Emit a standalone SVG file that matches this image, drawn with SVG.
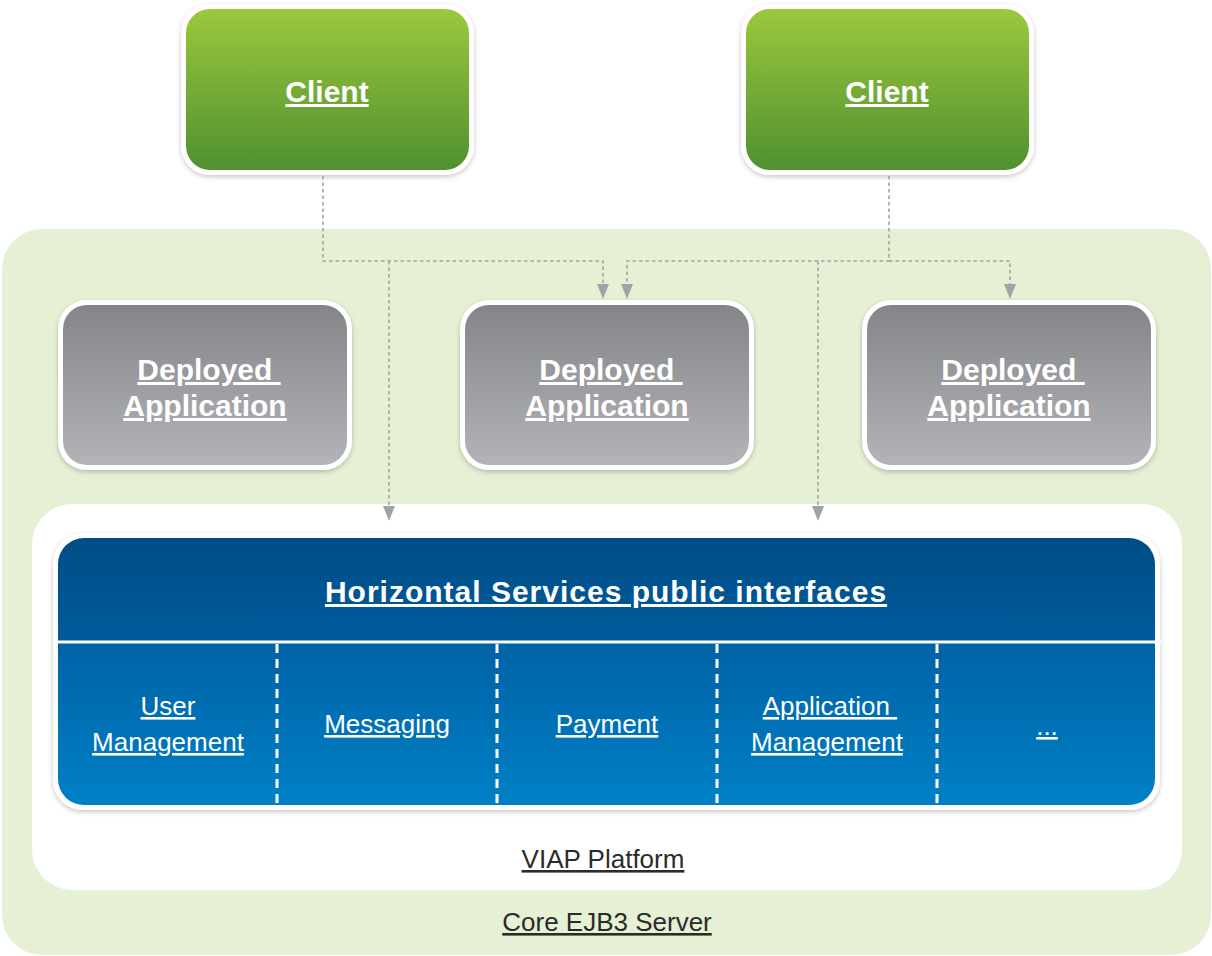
<svg xmlns="http://www.w3.org/2000/svg" width="1212" height="956" viewBox="0 0 1212 956">
<defs>
<linearGradient id="gGreen" x1="0" y1="0" x2="0" y2="1"><stop offset="0" stop-color="#9bc83d"/><stop offset="1" stop-color="#509030"/></linearGradient>
<linearGradient id="gGray" x1="0" y1="0" x2="0" y2="1"><stop offset="0" stop-color="#848589"/><stop offset="1" stop-color="#b3b4b8"/></linearGradient>
<linearGradient id="gHead" x1="0" y1="0" x2="0" y2="1"><stop offset="0" stop-color="#004d86"/><stop offset="1" stop-color="#005b9c"/></linearGradient>
<linearGradient id="gBody" x1="0" y1="0" x2="0" y2="1"><stop offset="0" stop-color="#0062a5"/><stop offset="1" stop-color="#0080c6"/></linearGradient>
<filter id="sh" x="-10%" y="-10%" width="120%" height="130%"><feDropShadow dx="0" dy="2" stdDeviation="2.5" flood-color="#000" flood-opacity="0.22"/></filter>
<clipPath id="blueClip"><rect x="58" y="538" width="1097" height="267" rx="26"/></clipPath>
<marker id="arr" viewBox="0 0 15 12" refX="0" refY="6" markerWidth="15" markerHeight="12" markerUnits="userSpaceOnUse" orient="auto"><path d="M0,0 L15,6 L0,12 z" fill="#a2a3a8"/></marker>
<style>
.lbl{font-family:"Liberation Sans",Arial,sans-serif;fill:#fff;text-anchor:middle;text-decoration:underline;}
.big{font-size:30px;font-weight:bold;}
.svc{font-size:26px;}
.dark{font-family:"Liberation Sans",Arial,sans-serif;fill:#2b2b2b;text-anchor:middle;text-decoration:underline;font-size:26px;}
.conn{fill:none;stroke:#a2a3a8;stroke-width:1.6;stroke-dasharray:3.5,3;}
.div{stroke:#fff;stroke-width:3;stroke-dasharray:9,6;}
</style>
</defs>

<g id="core-ejb3-server">
<rect x="2" y="229" width="1209" height="726" rx="40" fill="#e5f0d5"/>
<text class="dark" x="607" y="931">Core EJB3 Server</text>
</g>

<g id="viap-platform">
<rect x="32" y="504" width="1150" height="386" rx="40" fill="#fff"/>
<text class="dark" x="603" y="868">VIAP Platform</text>
</g>

<g id="horizontal-services">
<rect x="53" y="533" width="1107" height="277" rx="30" fill="#fff" filter="url(#sh)"/>
<g clip-path="url(#blueClip)">
<rect x="58" y="538" width="1097" height="104" fill="url(#gHead)"/>
<rect x="58" y="642" width="1097" height="163" fill="url(#gBody)"/>
</g>
<line x1="58" y1="642" x2="1161" y2="642" stroke="#fff" stroke-width="3"/>
<line class="div" x1="277" y1="644" x2="277" y2="806"/>
<line class="div" x1="497" y1="644" x2="497" y2="806"/>
<line class="div" x1="717" y1="644" x2="717" y2="806"/>
<line class="div" x1="937" y1="644" x2="937" y2="806"/>
<text class="lbl big" x="606" y="602" style="letter-spacing:1px">Horizontal Services public interfaces</text>
</g>

<g id="svc-user-management">
<text class="lbl svc" x="168" y="715">User</text>
<text class="lbl svc" x="168" y="751">Management</text>
</g>
<g id="svc-messaging"><text class="lbl svc" x="387" y="733">Messaging</text></g>
<g id="svc-payment"><text class="lbl svc" x="607" y="733">Payment</text></g>
<g id="svc-application-management">
<text class="lbl svc" x="830" y="715" xml:space="preserve">Application </text>
<text class="lbl svc" x="827" y="751">Management</text>
</g>
<g id="svc-more"><text class="lbl svc" x="1047" y="735">...</text></g>

<g id="client-1">
<rect x="181" y="4" width="293" height="171" rx="29" fill="#fff" filter="url(#sh)"/>
<rect x="186" y="9" width="283" height="161" rx="24" fill="url(#gGreen)"/>
<text class="lbl big" x="327" y="102">Client</text>
</g>
<g id="client-2">
<rect x="741" y="4" width="293" height="171" rx="29" fill="#fff" filter="url(#sh)"/>
<rect x="746" y="9" width="283" height="161" rx="24" fill="url(#gGreen)"/>
<text class="lbl big" x="887" y="102">Client</text>
</g>

<g id="deployed-app-1">
<rect x="58" y="300" width="294" height="170" rx="29" fill="#fff" filter="url(#sh)"/>
<rect x="63" y="305" width="284" height="160" rx="24" fill="url(#gGray)"/>
<text class="lbl big" x="209" y="380" xml:space="preserve">Deployed </text>
<text class="lbl big" x="205" y="416">Application</text>
</g>
<g id="deployed-app-2">
<rect x="460" y="300" width="294" height="170" rx="29" fill="#fff" filter="url(#sh)"/>
<rect x="465" y="305" width="284" height="160" rx="24" fill="url(#gGray)"/>
<text class="lbl big" x="611" y="380" xml:space="preserve">Deployed </text>
<text class="lbl big" x="607" y="416">Application</text>
</g>
<g id="deployed-app-3">
<rect x="862" y="300" width="294" height="170" rx="29" fill="#fff" filter="url(#sh)"/>
<rect x="867" y="305" width="284" height="160" rx="24" fill="url(#gGray)"/>
<text class="lbl big" x="1013" y="380" xml:space="preserve">Deployed </text>
<text class="lbl big" x="1009" y="416">Application</text>
</g>

<g id="connectors">
<path class="conn" d="M323,176 V261 H603 V284" marker-end="url(#arr)"/>
<path class="conn" d="M389,261 V506" marker-end="url(#arr)"/>
<path class="conn" d="M889,176 V261 H627 V284" marker-end="url(#arr)"/>
<path class="conn" d="M889,261 H1010 V284" marker-end="url(#arr)"/>
<path class="conn" d="M818,261 V506" marker-end="url(#arr)"/>
</g>
</svg>
